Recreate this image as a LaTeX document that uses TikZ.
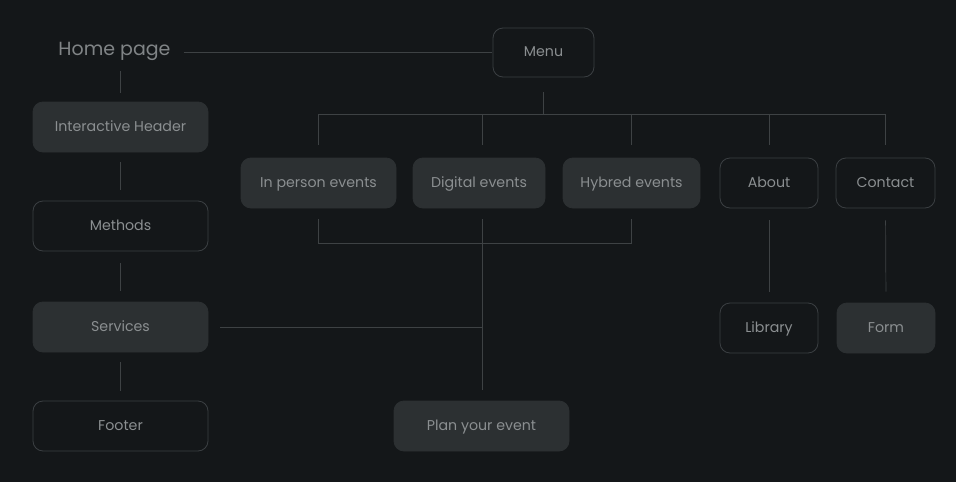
\documentclass[tikz,border=0pt]{standalone}
\usepackage{fontspec}
\setmainfont{Poppins}
\definecolor{bgc}{HTML}{141719}
\definecolor{boxfill}{HTML}{2C3032}
\definecolor{boxline}{HTML}{3B3F42}
\definecolor{txt}{HTML}{8B8F91}
\definecolor{conn}{HTML}{3E4244}
\begin{document}
\begin{tikzpicture}[x=1pt,y=-1pt,
  base/.style={rounded corners=10pt, minimum height=50pt, inner sep=0pt,
    font=\fontsize{14.2}{16}\selectfont, text=txt, line width=0.8pt,
    text height=10pt, text depth=2pt},
  filledbox/.style={base, fill=boxfill, draw=boxfill},
  outlinebox/.style={base, fill=bgc, draw=boxline},
  link/.style={draw=conn, line width=0.7pt}]
\fill[bgc] (0,0) rectangle (956,482);
\useasboundingbox (0,0) rectangle (956,482);
% left column
\node[text=txt!110, font=\fontsize{19}{22}\selectfont, inner sep=0pt, text height=14pt, text depth=4pt] (home) at (114.5,50) {Home page};
\node[filledbox, minimum width=175pt] (ih) at (120.5,127) {Interactive Header};
\node[outlinebox, minimum width=175pt] (me) at (120.5,226) {Methods};
\node[filledbox, minimum width=175pt] (sv) at (120.5,327) {Services};
\node[outlinebox, minimum width=175pt] (ft) at (120.5,426) {Footer};
% top
\node[outlinebox, minimum width=101pt, minimum height=49pt] (menu) at (543.5,52.5) {Menu};
\node[filledbox, minimum width=155pt] (ip) at (318.5,183) {In person events};
\node[filledbox, minimum width=132pt] (de) at (479,183) {Digital events};
\node[filledbox, minimum width=137pt] (hy) at (631.5,183) {Hybred events};
\node[outlinebox, minimum width=98pt] (ab) at (769,183) {About};
\node[outlinebox, minimum width=99pt] (ct) at (885.5,183) {Contact};
\node[outlinebox, minimum width=98pt] (lb) at (769,328) {Library};
\node[filledbox, minimum width=98pt] (fm) at (886,328) {Form};
\node[filledbox, minimum width=175pt] (pl) at (481.5,426) {Plan your event};
% junction coordinates
\coordinate (mj) at (543,114);
\coordinate (lj) at (482,243);
% connectors
\draw[link, shorten <=13pt, shorten >=1pt] (menu.west -| home.east) -- (menu.west);
\draw[link, shorten <=12pt, shorten >=9pt] (home.south -| ih.north) -- (ih.north);
\draw[link, shorten <=10pt, shorten >=11pt] (ih.south) -- (me.north);
\draw[link, shorten <=12pt, shorten >=11pt] (me.south) -- (sv.north);
\draw[link, shorten <=10pt, shorten >=10pt] (sv.south) -- (ft.north);
\draw[link, shorten <=15pt] (menu.south -| mj) -- (mj);
\draw[link] (ip.north |- mj) -- (ct.north |- mj);
\foreach \n in {ip,hy,ab,ct}
  \draw[link, shorten >=13pt] (\n.north |- mj) -- (\n.north);
\draw[link, shorten >=13pt] (lj |- mj) -- (lj |- de.north);
\draw[link, shorten <=11pt, shorten >=11pt] (ip.south) -- (ip.south |- lj) -- (hy.south |- lj) -- (hy.south);
\draw[link, shorten <=11pt, shorten >=11pt] (lj |- de.south) -- (lj |- pl.north);
\draw[link, shorten <=12pt] (sv.east) -- (sv.east -| lj);
\draw[link, shorten <=12pt, shorten >=11pt] (ab.south) -- (lb.north);
\draw[link, shorten <=12pt, shorten >=11pt] (ct.south) -- (fm.north);
\end{tikzpicture}
\end{document}
